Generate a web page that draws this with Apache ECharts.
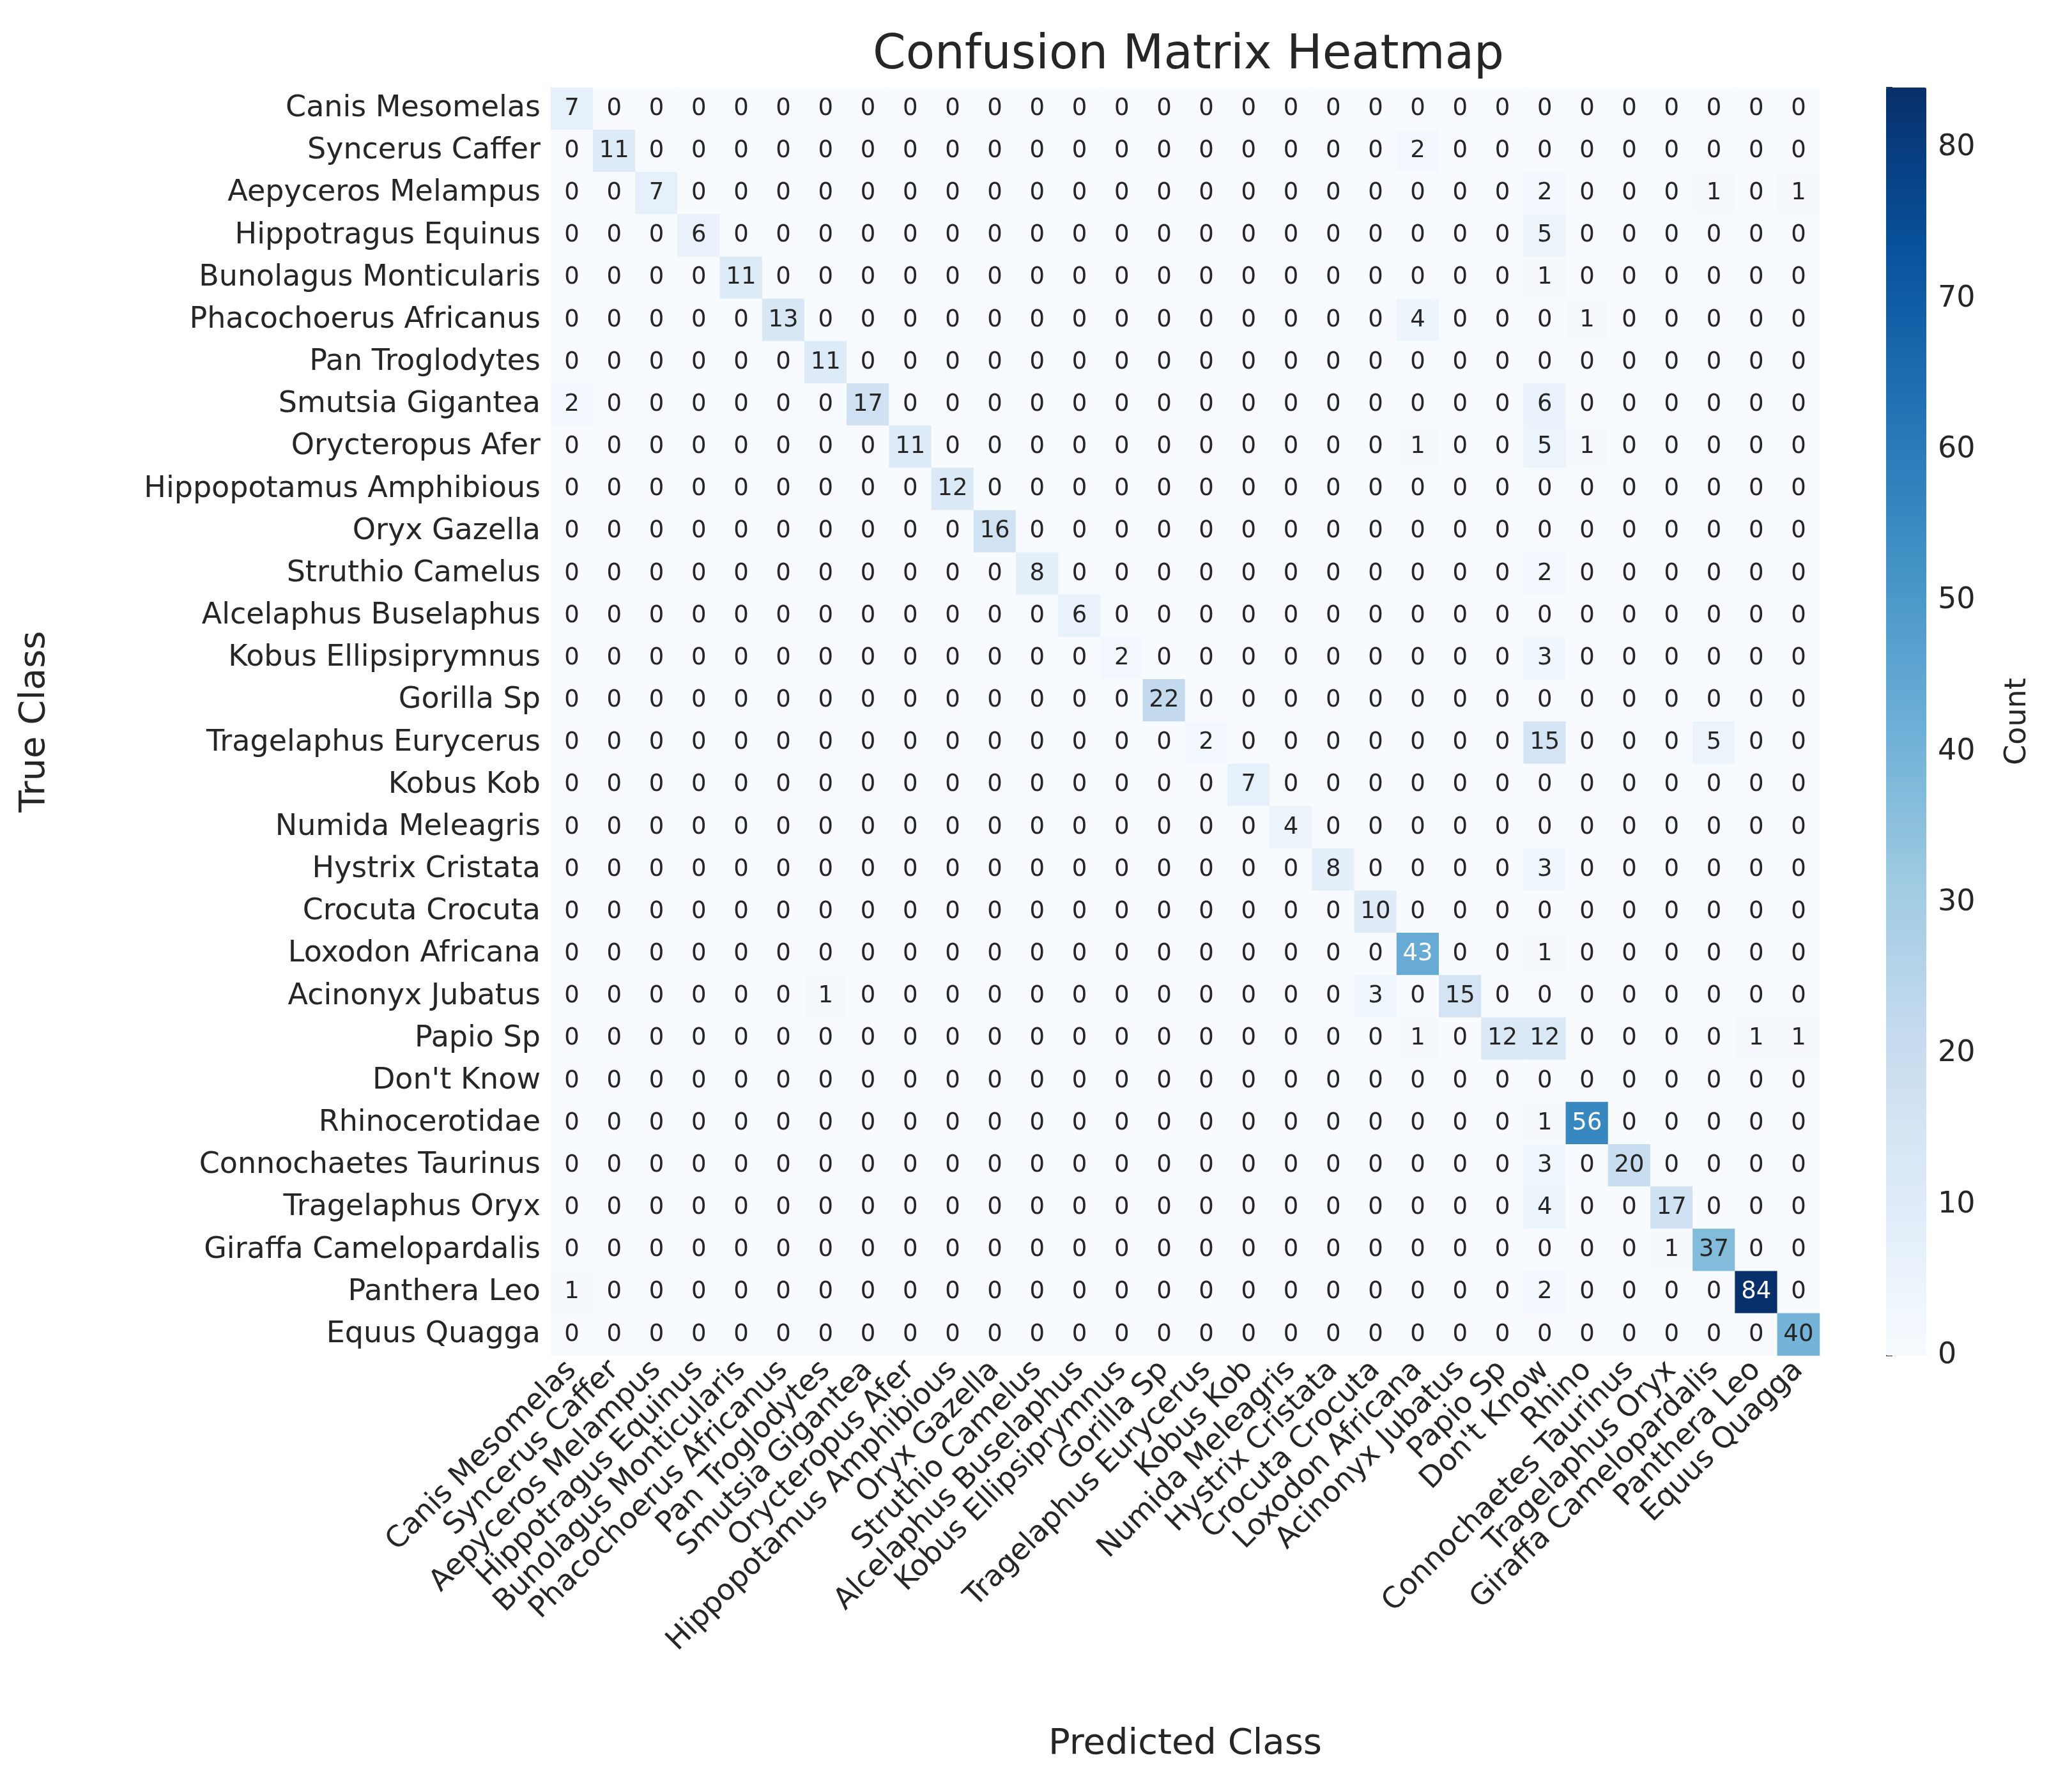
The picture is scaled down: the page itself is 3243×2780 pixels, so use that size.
<!DOCTYPE html>
<html><head><meta charset="utf-8">
<script src="https://cdn.jsdelivr.net/npm/echarts@6/dist/echarts.min.js"></script>
<style>html,body{margin:0;background:#fff}#c{width:3243px;height:2780px}</style>
</head><body><div id="c"></div>
<script>
var predLabels = ["Canis Mesomelas","Syncerus Caffer","Aepyceros Melampus","Hippotragus Equinus","Bunolagus Monticularis","Phacochoerus Africanus","Pan Troglodytes","Smutsia Gigantea","Orycteropus Afer","Hippopotamus Amphibious","Oryx Gazella","Struthio Camelus","Alcelaphus Buselaphus","Kobus Ellipsiprymnus","Gorilla Sp","Tragelaphus Eurycerus","Kobus Kob","Numida Meleagris","Hystrix Cristata","Crocuta Crocuta","Loxodon Africana","Acinonyx Jubatus","Papio Sp","Don't Know","Rhino","Connochaetes Taurinus","Tragelaphus Oryx","Giraffa Camelopardalis","Panthera Leo","Equus Quagga"];
var trueLabels = predLabels.slice();
trueLabels[24] = "Rhinocerotidae";
var diagonal = [7,11,7,6,11,13,11,17,11,12,16,8,6,2,22,2,7,4,8,10,43,15,12,0,56,20,17,37,84,40];
// off-diagonal [row, col, value]
var offDiag = [
  [1,20,2],[2,23,2],[2,27,1],[2,29,1],[3,23,5],[4,23,1],[5,20,4],[5,24,1],
  [7,0,2],[7,23,6],[8,20,1],[8,23,5],[8,24,1],[11,23,2],[13,23,3],
  [15,23,15],[15,27,5],[18,23,3],[20,23,1],[21,6,1],[21,19,3],
  [22,20,1],[22,23,12],[22,28,1],[22,29,1],[24,23,1],[25,23,3],[26,23,4],
  [27,26,1],[28,0,1],[28,23,2]
];
var cbTicks = [0,10,20,30,40,50,60,70,80];

var n = predLabels.length;
var grid = [];
for (var r = 0; r < n; r++) { grid.push([]); for (var c = 0; c < n; c++) grid[r].push(r === c ? diagonal[r] : 0); }
offDiag.forEach(function (d) { grid[d[0]][d[1]] = d[2]; });
var data = [];
for (var r = 0; r < n; r++) for (var c = 0; c < n; c++) {
  var v = grid[r][c];
  data.push(v > 42 ? {value: [c, r, v], label: {color: "#ffffff"}} : [c, r, v]);
}

var font = "DejaVu Sans";
var chart = echarts.init(document.getElementById("c"));
chart.setOption({
  animation: false,
  textStyle: {fontFamily: font},
  title: {text: "Confusion Matrix Heatmap", left: 1855, top: 46, textAlign: "center",
    textStyle: {fontSize: 74, fontWeight: "normal", color: "#262626", fontFamily: font}},
  grid: [
    {left: 862, top: 137, width: 1986, height: 1985},
    {left: 2952, top: 137, width: 63, height: 1985}
  ],
  xAxis: [
    {type: "category", data: predLabels, gridIndex: 0, name: "Predicted Class", nameLocation: "middle", nameGap: 580,
      nameTextStyle: {fontSize: 56, color: "#262626"},
      axisLine: {show: false}, axisTick: {alignWithLabel: true, length: 10, lineStyle: {color: "#333", width: 2}},
      axisLabel: {rotate: 45, fontSize: 46, color: "#262626", interval: 0, margin: 16}},
    {type: "value", gridIndex: 1, show: false}
  ],
  yAxis: [
    {type: "category", data: trueLabels, inverse: true, gridIndex: 0, name: "True Class", nameLocation: "middle", nameGap: 780,
      nameTextStyle: {fontSize: 56, color: "#262626"},
      axisLine: {show: false}, axisTick: {alignWithLabel: true, length: 10, lineStyle: {color: "#333", width: 2}},
      axisLabel: {fontSize: 46, color: "#262626", interval: 0, margin: 16}},
    {type: "value", gridIndex: 1, position: "right", min: 0, max: 84, interval: 10,
      name: "Count", nameLocation: "middle", nameGap: 120, nameRotate: 90,
      nameTextStyle: {fontSize: 46, color: "#262626"},
      axisLine: {show: false}, splitLine: {show: false},
      axisTick: {show: true, length: 10, lineStyle: {color: "#333", width: 2}},
      axisLabel: {fontSize: 46, color: "#262626", margin: 18,
        formatter: function (v) { return cbTicks.indexOf(v) >= 0 ? v : ""; }}}
  ],
  visualMap: {min: 0, max: 84, calculable: false, show: true, left: 2952, top: 137, padding: 0,
    itemWidth: 63, itemHeight: 1985, text: ["", ""], textGap: 0, showLabel: false, seriesIndex: 0,
    inRange: {color: ["#f7fbff","#deebf7","#c6dbef","#9ecae1","#6baed6","#4292c6","#2171b5","#08519c","#08306b"]}},
  series: [{
    type: "heatmap", data: data, xAxisIndex: 0, yAxisIndex: 0,
    label: {show: true, fontSize: 37, fontFamily: font, color: "#262626",
      formatter: function (p) { return p.value[2]; }},
    itemStyle: {borderWidth: 0}
  }]
});
</script></body></html>
